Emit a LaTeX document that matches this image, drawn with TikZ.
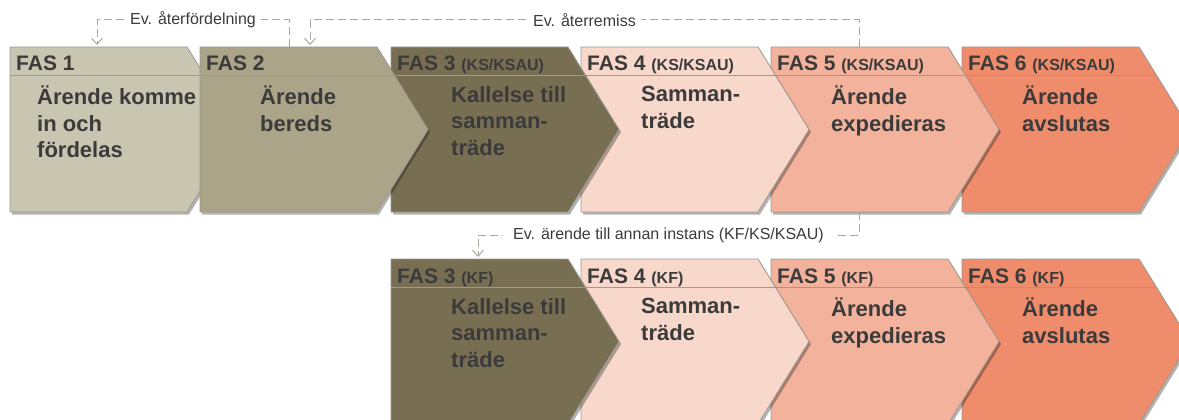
\documentclass[tikz,border=0pt]{standalone}
\usepackage{fontspec}
\setmainfont{Liberation Sans}
\usetikzlibrary{arrows.meta, calc, shadows}

\definecolor{fasA}{HTML}{C8C5B0}
\definecolor{fasB}{HTML}{ABA488}
\definecolor{fasC}{HTML}{786F53}
\definecolor{fasD}{HTML}{F8D8CB}
\definecolor{fasE}{HTML}{F3B29B}
\definecolor{fasF}{HTML}{EF8C6B}
\definecolor{ink}{HTML}{3B3B3B}
\definecolor{edge}{HTML}{9E9A8E}
\definecolor{dashgray}{HTML}{ABA79F}

% organ in the header, smaller
\newcommand{\fasorg}[1]{{\fontsize{16}{18}\selectfont(#1)}}

% one phase chevron: [body indent] name, x, y, fill, header, body
\newcommand{\fasbox}[7][60]{%
	\coordinate (#2) at (#3,#4);
	\path[chevron, fill=#5] (#2) -- ++(177,0) -- ++(51,82.5) -- ++(-51,82.5) -- ++(-177,0) -- cycle;
	\draw[headrule] ($(#2)+(0,28)$) -- ++(194,0);
	\node[fashead] (#2h) at ($(#2)+(6,24)$) {#6};
	\node[fasbody] (#2b) at ($(#2)+(#1,39)$) {#7};
}

\begin{document}
\begin{tikzpicture}[x=1pt, y=-1pt, line join=round,
	chevron/.style={draw=edge, line width=0.8pt,
		drop shadow={shadow xshift=2pt, shadow yshift=-2.5pt, opacity=.3, fill=black}},
	headrule/.style={draw=edge, line width=0.8pt},
	fashead/.style={anchor=base west, inner sep=0pt, text=ink,
		font=\fontsize{21}{24}\selectfont\bfseries},
	fasbody/.style={anchor=north west, inner sep=0pt, align=left, text=ink,
		font=\fontsize{22}{26.5}\selectfont\bfseries},
	evline/.style={draw=dashgray, line width=1pt, dash pattern=on 8pt off 4pt,
		-{Straight Barb[length=6pt, width=11pt]}},
	evlabel/.style={fill=white, inner xsep=5pt, inner ysep=2pt, text=ink,
		font=\fontsize{16}{18}\selectfont}]
	
	\clip (0,0) rectangle (1179,420);
	
	%========================
	% Top row: KS/KSAU (right to left, so each tip lies on the next box)
	%========================
	\fasbox{f6}{962}{47}{fasF}{FAS 6 \fasorg{KS/KSAU}}{Ärende\\avslutas}
	\fasbox{f5}{771}{47}{fasE}{FAS 5 \fasorg{KS/KSAU}}{Ärende\\expedieras}
	\fasbox{f4}{581}{47}{fasD}{FAS 4 \fasorg{KS/KSAU}}{Samman-\\träde}
	\fasbox{f3}{391}{47}{fasC}{FAS 3 \fasorg{KS/KSAU}}{Kallelse till\\samman-\\träde}
	\fasbox[27]{f1}{10}{47}{fasA}{FAS 1}{Ärende komme\\in och\\fördelas}
	\fasbox{f2}{200}{47}{fasB}{FAS 2}{Ärende\\bereds}
	
	%========================
	% Bottom row: KF
	%========================
	\fasbox{k6}{962}{259}{fasF}{FAS 6 \fasorg{KF}}{Ärende\\avslutas}
	\fasbox{k5}{771}{259}{fasE}{FAS 5 \fasorg{KF}}{Ärende\\expedieras}
	\fasbox{k4}{581}{259}{fasD}{FAS 4 \fasorg{KF}}{Samman-\\träde}
	\fasbox{k3}{391}{259}{fasC}{FAS 3 \fasorg{KF}}{Kallelse till\\samman-\\träde}
	
	%========================
	% optional loops back / onward
	%========================
	\draw[evline] ($(f2)+(89,0)$) |- node[evlabel, pos=.75] {Ev. återfördelning}
		($(f1)+(87,-27)$) -- ($(f1)+(87,-2)$);
	\draw[evline] ($(f5)+(88,0)$) |- node[evlabel, pos=.75] {Ev. återremiss}
		($(f2)+(110,-27)$) -- ($(f2)+(110,-2)$);
	\draw[evline] ($(f5)+(88,165)$) |- node[evlabel, pos=.75, inner xsep=10pt] {Ev. ärende till annan instans (KF/KS/KSAU)}
		($(k3)+(87,-24)$) -- ($(k3)+(87,-2)$);
	
\end{tikzpicture}
\end{document}
